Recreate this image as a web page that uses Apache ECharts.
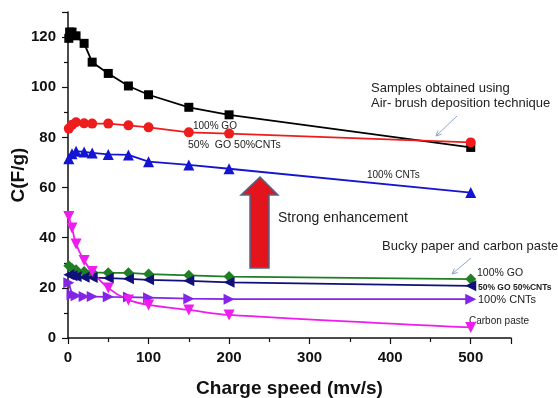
<!DOCTYPE html>
<html>
<head>
<meta charset="utf-8">
<script src="https://cdn.jsdelivr.net/npm/echarts@6/dist/echarts.min.js"></script>
<style>
  html, body { margin: 0; padding: 0; background: #fff; }
  #chart { width: 558px; height: 398px; }
</style>
</head>
<body>
<div id="chart"></div>
<script>
// charge speed (mv/s)
const speeds = [1, 2, 5, 10, 20, 30, 50, 75, 100, 150, 200, 500]

// air-brush samples
const goAir = [119.5, 122, 122, 120.5, 117.5, 110, 105.5, 100.5, 97, 92, 89, 76]
const mixAir = [83.5, null, 85, 86, 85.6, 85.5, 85.5, 84.8, 84, 82, 81.5, 78]
const cntAir = [71.5, null, 73.5, 74.5, 74.2, 73.8, 73.2, 73, 70.3, 69, 67.5, 58]

// bucky paper and carbon paste
const goBucky = [28.8, null, 27.7, 27.2, 26.5, 26.2, 26, 26, 25.5, 25, 24.5, 23.5]
const mixBucky = [25.2, null, 24.8, 24.5, 24.2, 24.1, 23.9, 23.6, 23.2, 22.8, 22.2, 20.8]
const cntBucky = [22, null, 17.2, 16.8, 16.5, 16.5, 16.4, 16.3, 16.1, 15.7, 15.5, 15.5]
const carbonPaste = [48.5, null, 43.9, 37.5, 30.9, 26.5, 19.9, 15.2, 13.2, 11.2, 9.2, 4.2]

const FONT = '"Liberation Sans", Arial, sans-serif'

const chart = echarts.init(document.getElementById('chart'))

const pairs = (vals) => speeds.map((s, i) => [s, vals[i]])

const makeSeries = (name, vals, color, symbol, size, rotate, smooth) => ({
  name: name,
  type: 'line',
  data: pairs(vals),
  connectNulls: true,
  smooth: smooth || false,
  symbol: symbol,
  symbolSize: size,
  symbolRotate: rotate || 0,
  showSymbol: true,
  lineStyle: { color: color, width: 1.8 },
  itemStyle: { color: color },
  animation: false
})

const smallText = (x, y, text, size, weight) => ({
  type: 'text',
  left: x,
  top: y,
  style: {
    text: text,
    fill: '#222',
    font: (weight || 'normal') + ' ' + size + 'px ' + FONT
  }
})

const thinArrow = (x1, y1, x2, y2) => {
  const ang = Math.atan2(y2 - y1, x2 - x1)
  const L = 6
  return [
    {
      type: 'line',
      shape: { x1: x1, y1: y1, x2: x2, y2: y2 },
      style: { stroke: '#8fa6cf', lineWidth: 1 }
    },
    {
      type: 'polyline',
      shape: {
        points: [
          [x2 - L * Math.cos(ang - 0.45), y2 - L * Math.sin(ang - 0.45)],
          [x2, y2],
          [x2 - L * Math.cos(ang + 0.45), y2 - L * Math.sin(ang + 0.45)]
        ]
      },
      style: { stroke: '#8fa6cf', lineWidth: 1, fill: null }
    }
  ]
}

const option = {
  backgroundColor: '#fff',
  animation: false,
  grid: {
    left: 68,
    right: 47,
    top: 12,
    bottom: 60,
    outerBoundsMode: 'none'
  },
  xAxis: {
    type: 'value',
    min: 0,
    max: 550,
    interval: 100,
    name: 'Charge speed (mv/s)',
    nameLocation: 'middle',
    nameGap: 41,
    nameTextStyle: { fontFamily: FONT, fontSize: 19, fontWeight: 'bold', color: '#111' },
    axisLine: { show: true, lineStyle: { color: '#111', width: 1.5 } },
    axisTick: { show: true, inside: false, length: 6, lineStyle: { color: '#111', width: 1.2 } },
    minorTick: { show: true, splitNumber: 2, length: 4, lineStyle: { color: '#111', width: 1.2 } },
    axisLabel: {
      showMaxLabel: false,
      margin: 12,
      fontFamily: FONT,
      fontSize: 15,
      fontWeight: 'bold',
      color: '#111'
    },
    splitLine: { show: false }
  },
  yAxis: {
    type: 'value',
    min: 0,
    max: 130,
    interval: 20,
    name: 'C(F/g)',
    nameLocation: 'middle',
    nameGap: 40,
    nameMoveOverlap: false,
    nameTextStyle: { fontFamily: FONT, fontSize: 19, fontWeight: 'bold', color: '#111' },
    axisLine: { show: true, lineStyle: { color: '#111', width: 1.5 } },
    axisTick: { show: true, inside: false, length: 6, lineStyle: { color: '#111', width: 1.2 } },
    minorTick: { show: true, splitNumber: 2, length: 4, lineStyle: { color: '#111', width: 1.2 } },
    axisLabel: {
      showMaxLabel: false,
      margin: 12,
      fontFamily: FONT,
      fontSize: 15,
      fontWeight: 'bold',
      color: '#111'
    },
    splitLine: { show: false }
  },
  series: [
    makeSeries('100% GO', goAir, '#000000', 'rect', 9),
    makeSeries('50% GO 50%CNTs', mixAir, '#ee1c1c', 'circle', 10),
    makeSeries('100% CNTs', cntAir, '#1414d2', 'triangle', 11),
    makeSeries('100% GO bucky', goBucky, '#1f7f24', 'diamond', 11),
    makeSeries('50% GO 50%CNTs bucky', mixBucky, '#10107a', 'triangle', 11, 90),
    makeSeries('100% CNTs bucky', cntBucky, '#8424e6', 'triangle', 11, -90),
    makeSeries('Carbon paste', carbonPaste, '#ee1cee', 'triangle', 11, 180, 0.35)
  ],
  graphic: [
    // big red arrow
    {
      type: 'polygon',
      shape: {
        points: [[250, 268], [250, 195], [241, 195], [260, 177], [278, 195], [269, 195], [269, 268]]
      },
      style: { fill: '#e3141b', stroke: '#52648c', lineWidth: 1.5 }
    },
    smallText(371, 82, 'Samples obtained using', 13),
    smallText(371, 97, 'Air- brush deposition technique', 13),
    smallText(193, 121, '100% GO', 10),
    smallText(188, 140, '50%  GO 50%CNTs', 10.5),
    smallText(367, 170, '100% CNTs', 10),
    smallText(278, 211, 'Strong enhancement', 14),
    smallText(382, 240, 'Bucky paper and carbon paste', 13),
    smallText(477, 268, '100% GO', 10.5),
    smallText(478, 283, '50% GO 50%CNTs', 8.5, 'bold'),
    smallText(478, 294, '100% CNTs', 11),
    smallText(469, 316, 'Carbon paste', 10),
    ...thinArrow(457, 116, 436, 136),
    ...thinArrow(471, 258, 452, 274)
  ]
}

chart.setOption(option)
</script>
</body>
</html>
